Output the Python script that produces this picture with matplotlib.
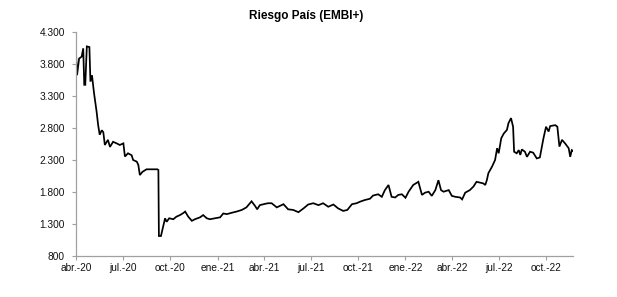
import matplotlib
matplotlib.use("Agg")
import matplotlib.pyplot as plt
import numpy as np
import pandas as pd

plt.rcParams['font.family'] = ['Liberation Sans', 'DejaVu Sans']

dates = [
    "2020-04-01", "2020-04-03", "2020-04-07", "2020-04-12", "2020-04-15", "2020-04-17",
    "2020-04-19", "2020-04-22", "2020-04-27", "2020-04-29", "2020-05-02", "2020-05-06",
    "2020-05-11", "2020-05-14", "2020-05-17", "2020-05-21", "2020-05-24", "2020-05-27",
    "2020-06-02", "2020-06-06", "2020-06-12", "2020-06-19", "2020-06-25", "2020-07-02",
    "2020-07-05", "2020-07-11", "2020-07-18", "2020-07-21", "2020-07-28", "2020-07-31",
    "2020-08-03", "2020-08-08", "2020-08-16", "2020-09-06", "2020-09-08", "2020-09-09",
    "2020-09-13", "2020-09-17", "2020-09-21", "2020-09-24", "2020-09-29", "2020-10-07",
    "2020-10-13", "2020-10-20", "2020-10-27", "2020-10-30", "2020-11-05", "2020-11-12",
    "2020-11-18", "2020-11-28", "2020-12-04", "2020-12-11", "2020-12-17", "2020-12-27",
    "2021-01-06", "2021-01-12", "2021-01-19", "2021-01-28", "2021-02-07", "2021-02-17",
    "2021-02-26", "2021-03-08", "2021-03-15", "2021-03-19", "2021-03-24", "2021-04-03",
    "2021-04-09", "2021-04-16", "2021-04-26", "2021-05-09", "2021-05-18", "2021-05-28",
    "2021-06-07", "2021-06-17", "2021-06-26", "2021-07-06", "2021-07-16", "2021-07-25",
    "2021-08-04", "2021-08-14", "2021-08-23", "2021-09-02", "2021-09-10", "2021-09-19",
    "2021-09-28", "2021-10-05", "2021-10-14", "2021-10-24", "2021-10-30", "2021-11-09",
    "2021-11-16", "2021-11-22", "2021-11-29", "2021-12-05", "2021-12-12", "2021-12-18",
    "2021-12-25", "2022-01-01", "2022-01-07", "2022-01-16", "2022-01-23", "2022-01-26",
    "2022-02-02", "2022-02-08", "2022-02-15", "2022-02-21", "2022-02-28", "2022-03-06",
    "2022-03-11", "2022-03-16", "2022-03-26", "2022-04-01", "2022-04-08", "2022-04-17",
    "2022-04-21", "2022-04-27", "2022-05-06", "2022-05-13", "2022-05-19", "2022-06-01",
    "2022-06-05", "2022-06-08", "2022-06-11", "2022-06-18", "2022-06-24", "2022-06-28",
    "2022-07-01", "2022-07-06", "2022-07-11", "2022-07-17", "2022-07-20", "2022-07-25",
    "2022-07-29", "2022-07-31", "2022-08-05", "2022-08-09", "2022-08-12", "2022-08-15",
    "2022-08-21", "2022-08-25", "2022-08-31", "2022-09-06", "2022-09-13", "2022-09-19",
    "2022-09-26", "2022-10-01", "2022-10-06", "2022-10-09", "2022-10-19", "2022-10-23",
    "2022-10-27", "2022-11-01", "2022-11-07", "2022-11-14", "2022-11-17", "2022-11-20",
    "2022-11-22",
]

embi = [
    3960, 3620, 3880, 3910, 4040, 3470,
    3470, 4070, 4060, 3520, 3620, 3340,
    3050, 2840, 2690, 2760, 2730, 2530,
    2610, 2500, 2580, 2555, 2530, 2555,
    2350, 2400, 2370, 2295, 2270, 2220,
    2060, 2110, 2150, 2150, 2140, 1108,
    1108, 1250, 1385, 1330, 1385, 1370,
    1410, 1435, 1470, 1490, 1410, 1345,
    1370, 1400, 1435, 1385, 1370, 1385,
    1400, 1460, 1450, 1470, 1490, 1515,
    1555, 1650, 1575, 1525, 1590, 1610,
    1620, 1620, 1555, 1605, 1525, 1515,
    1480, 1540, 1600, 1620, 1590, 1620,
    1565, 1600, 1540, 1500, 1515, 1605,
    1620, 1645, 1670, 1690, 1740, 1760,
    1720, 1825, 1905, 1720, 1710, 1750,
    1760, 1705, 1800, 1905, 1940, 1955,
    1750, 1785, 1800, 1735, 1825, 1980,
    1825, 1800, 1825, 1735, 1720, 1710,
    1680, 1785, 1825, 1880, 1955, 1930,
    1905, 1980, 2090, 2190, 2295, 2480,
    2400, 2635, 2710, 2765, 2870, 2950,
    2815, 2425, 2400, 2450, 2375, 2460,
    2425, 2345, 2425, 2410, 2320, 2335,
    2635, 2815, 2740, 2825, 2840, 2815,
    2505, 2610, 2555, 2480, 2345, 2450,
    2440,
]

tick_dates = ["2020-04-01", "2020-07-01", "2020-10-01", "2021-01-01", "2021-04-01",
              "2021-07-01", "2021-10-01", "2022-01-01", "2022-04-01", "2022-07-01",
              "2022-10-01"]
tick_labels = ["abr.-20", "jul.-20", "oct.-20", "ene.-21", "abr.-21", "jul.-21",
               "oct.-21", "ene.-22", "abr.-22", "jul.-22", "oct.-22"]
y_ticks = [800, 1300, 1800, 2300, 2800, 3300, 3800, 4300]

title = "Riesgo País (EMBI+)"

x = pd.to_datetime(dates)

fig = plt.figure(figsize=(6.17, 2.97), dpi=100)
ax = fig.add_axes([0.1232, 0.139, 0.806, 0.7543])

ax.plot(x, embi, color="black", linewidth=1.25, solid_joinstyle="miter")

ax.set_xlim(pd.Timestamp("2020-04-01"), pd.Timestamp("2022-11-23"))
ax.set_ylim(800, 4300)

ax.set_yticks(y_ticks)
ax.set_yticklabels([f"{v:,}".replace(",", ".") for v in y_ticks])
ax.set_xticks(pd.to_datetime(tick_dates))
ax.set_xticklabels(tick_labels)

for s in ["top", "right"]:
    ax.spines[s].set_visible(False)
for s in ["left", "bottom"]:
    ax.spines[s].set_color("#a0a0a0")
    ax.spines[s].set_linewidth(0.9)

ax.tick_params(axis="both", which="both", direction="out", length=3,
               width=0.8, color="#a0a0a0", labelsize=7.3, labelcolor="#111111", pad=2)
ax.tick_params(axis="y", pad=5)

fig.text(0.497, 0.947, title, ha="center", va="center", fontsize=8.5, fontweight="bold")

fig.savefig("out.png", dpi=100)
